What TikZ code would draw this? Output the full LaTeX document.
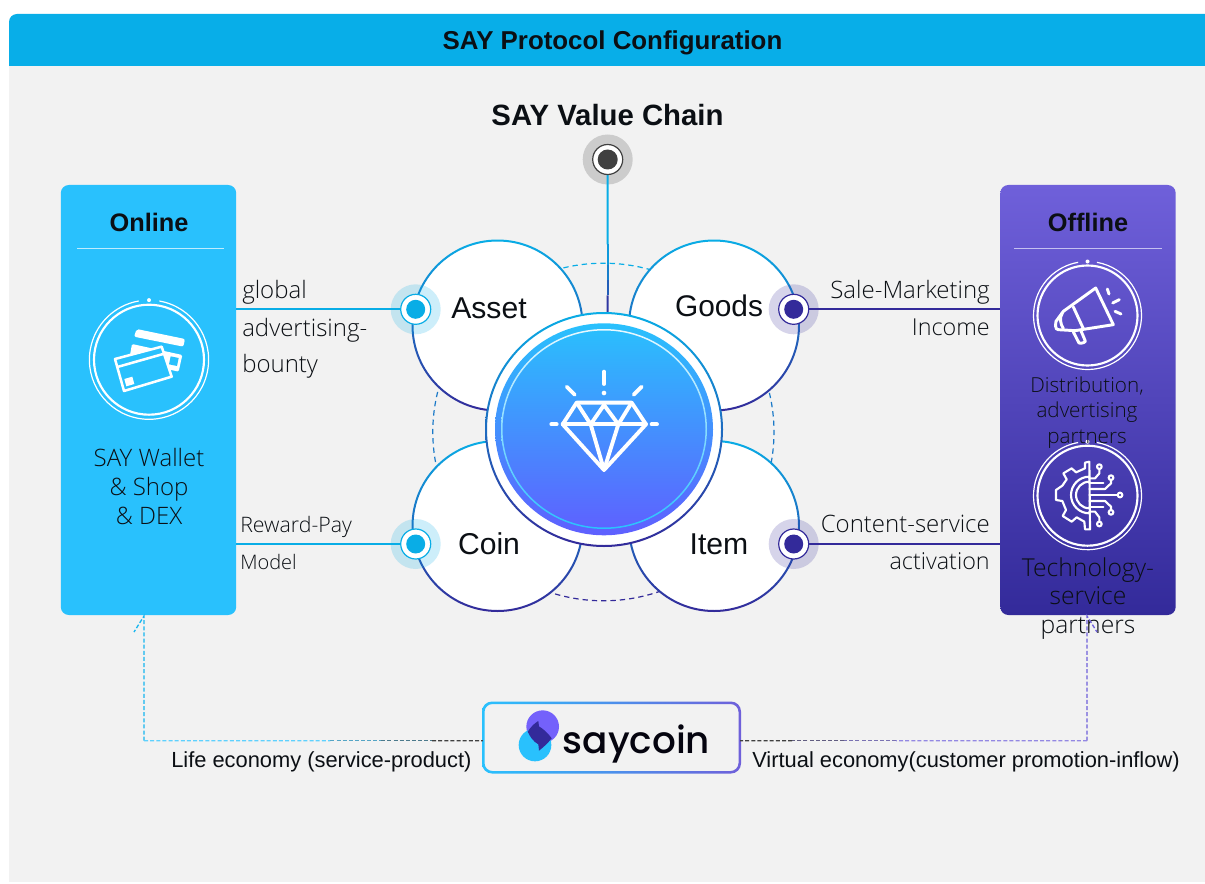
\documentclass[tikz,border=0pt]{standalone}
\usepackage{fontspec}
\setmainfont{Liberation Sans}
\newfontfamily\lightf{Open Sans Light}
\newfontfamily\logof{Poppins Medium}
\usetikzlibrary{calc,shapes.geometric}
\definecolor{hdr}{HTML}{08AEE8}
\definecolor{pagebg}{HTML}{F2F2F2}
\definecolor{cya}{HTML}{09ADE6}
\definecolor{ind}{HTML}{332A9A}
\definecolor{sky}{HTML}{29C1FD}
\definecolor{vio}{HTML}{6F60DA}
\definecolor{ink}{HTML}{0B0F14}
\definecolor{discb}{HTML}{5F5FFF}
\definecolor{logov}{HTML}{7461FB}
\newcommand{\fs}[1]{\fontsize{#1}{#1}\selectfont}
\newcommand{\gradring}[4]{\shade[top color=cya,middle color=cya!55!ind,bottom color=ind,even odd rule]
  (#1,#2) circle[radius=#3+#4/2] (#1,#2) circle[radius=#3-#4/2];}
\newcommand{\iconring}[4]{%
  \draw[white,line width=0.9pt] (#1,#2)++(-80:#3) arc[start angle=-80,end angle=260,radius=#3];
  \draw[white,line width=1.6pt] (#1,#2) circle[radius=#4];
  \fill[white] (#1,#2-#3) circle[radius=2];}
\tikzset{
  lab/.style={anchor=base,inner sep=0pt,text=ink},
  labl/.style={anchor=base west,inner sep=0pt,text=ink},
  labr/.style={anchor=base east,inner sep=0pt,text=ink},
  lite/.style={font=\lightf\fs{18}},
  bubble/.style={circle,fill=white,inner sep=0pt,minimum size=127.5pt},
  marker/.style={circle,fill=white,draw=#1,line width=0.9pt,inner sep=0pt,minimum size=22.5pt},
  icot/.style={white,line width=2.2pt,line join=round,line cap=round},
  gearl/.style={white,line width=1.6pt,line join=round,line cap=round},
  gemline/.style={white,line width=2.9pt,line join=round,line cap=round},
  dsh/.style={line width=1pt,dash pattern=on 3pt off 1.6pt},
  ringdash/.style={line width=0.9pt,dash pattern=on 4pt off 3pt},
}
\begin{document}
\begin{tikzpicture}[x=0.75pt,y=-0.75pt]
\useasboundingbox (0,0) rectangle (1205,884);
\fill[white] (0,0) rectangle (1205,884);
\fill[pagebg] (9,66) rectangle (1205,882);
\path[fill=hdr,rounded corners=6pt] (9,80) -- (9,14) -- (1220,14) -- (1220,80) -- cycle;
\fill[pagebg] (9,66) rectangle (1205,90);
\node[lab,font=\bfseries\fs{19.4}] (title) at (612.5,50) {SAY Protocol Configuration};
\node[lab,font=\bfseries\fs{22}] (vc) at (607.5,126) {SAY Value Chain};

% side panels
\node[fill=sky,rounded corners=6pt,minimum width=131.5pt,minimum height=322.5pt,inner sep=0pt] (online) at (148.5,400) {};
\node[top color=vio,bottom color=ind,rounded corners=6pt,minimum width=131.5pt,minimum height=322.5pt,inner sep=0pt] (offline) at (1088,400) {};

% dashed ring behind the bubbles
\draw[ringdash,cya] (603.4,432)++(225:170.6 and 168.8) arc[start angle=225,end angle=315,x radius=170.6,y radius=168.8];
\draw[ringdash,cya!60!ind] (603.4,432)++(315:170.6 and 168.8) arc[start angle=315,end angle=405,x radius=170.6,y radius=168.8];
\draw[ringdash,cya!60!ind] (603.4,432)++(135:170.6 and 168.8) arc[start angle=135,end angle=225,x radius=170.6,y radius=168.8];
\draw[ringdash,ind] (603.4,432)++(45:170.6 and 168.8) arc[start angle=45,end angle=135,x radius=170.6,y radius=168.8];

% bubbles
\node[bubble] (asset) at (497.5,325.5) {};
\node[bubble] (goods) at (714,325.5) {};
\node[bubble] (coin) at (497.5,526) {};
\node[bubble] (item) at (714,526) {};
\gradring{497.5}{325.5}{85}{2}
\gradring{714}{325.5}{85}{2}
\gradring{497.5}{526}{85}{2}
\gradring{714}{526}{85}{2}

% value chain connector
\node[circle,fill=black!20,inner sep=0pt,minimum size=37.5pt] (topn) at (607.7,159.5) {};
\coordinate (topend) at (607.7,314);
\foreach \a/\b/\p in {0/.55/100,.55/.68/85,.68/.78/65,.78/.88/40,.88/1/10}{
  \draw[line width=1.5pt,color=cya!\p!ind] ($(topn)!\a!(topend)$) -- ($(topn)!\b!(topend)$);
}
\node[circle,fill=white,draw=black!75,line width=0.9pt,inner sep=0pt,minimum size=22.5pt] (topo) at (topn) {};
\node[circle,fill=black!75,inner sep=0pt,minimum size=15pt] (topi) at (topn) {};

% centre medallion
\node[ellipse,fill=white,inner sep=0pt,minimum width=177pt,minimum height=174.75pt] (centre) at (604,429.5) {};
\shade[top color=cya,middle color=cya!55!ind,bottom color=ind,even odd rule]
  (604,429.5) ellipse[x radius=119,y radius=117.5] (604,429.5) ellipse[x radius=117,y radius=115.5];
\shade[top color=sky,bottom color=discb] (604,429.3) ellipse[x radius=109,y radius=106];
\shade[top color=white!90!sky,bottom color=sky,even odd rule]
  (604,429) ellipse[x radius=103,y radius=100] (604,429) ellipse[x radius=101.5,y radius=98.5];

% diamond (traced in 3x crop coordinates)
\begin{scope}[shift={(380,230)},scale=1/3]
  \draw[gemline] (590,518) -- (755,518) -- (798,583) -- (672,720) -- (548,583) -- cycle;
  \draw[gemline] (548,583) -- (798,583);
  \draw[gemline] (590,518) -- (632,583) -- (672,525) -- (715,583) -- (755,518);
  \draw[gemline] (632,583) -- (672,720) -- (715,583);
  \draw[gemline] (672,425) -- (672,462);
  \fill[white] (672,489) circle[radius=7];
  \draw[gemline] (560,470) -- (584,494);
  \draw[gemline] (785,470) -- (761,494);
  \draw[gemline] (514,583) -- (530,583);
  \draw[gemline] (815,583) -- (831,583);
\end{scope}

% markers and their connectors
\fill[cya,opacity=.2] (415.7,309.3) circle[radius=25];
\fill[cya,opacity=.2] (415.7,544) circle[radius=25];
\fill[ind,opacity=.2] (793.7,309.3) circle[radius=25];
\fill[ind,opacity=.2] (793.7,544) circle[radius=25];
\node[marker=cya] (m1) at (415.7,309.3) {};
\node[marker=cya] (m2) at (415.7,544) {};
\node[marker=ind] (m3) at (793.7,309.3) {};
\node[marker=ind] (m4) at (793.7,544) {};
\draw[cya,line width=1.5pt] (online.east |- m1) -- (m1);
\draw[cya,line width=1.5pt] (online.east |- m2) -- (m2);
\draw[ind,line width=1.5pt] (m3) -- (offline.west |- m3);
\draw[ind,line width=1.5pt] (m4) -- (offline.west |- m4);
\fill[cya] (m1) circle[radius=9.5];
\fill[cya] (m2) circle[radius=9.5];
\fill[ind] (m3) circle[radius=9.5];
\fill[ind] (m4) circle[radius=9.5];

% bubble labels
\node[lab,font=\fs{22.6}] (tasset) at (489,318) {Asset};
\node[lab,font=\fs{22.4}] (tgoods) at (719,316) {Goods};
\node[lab,font=\fs{22.6}] (tcoin) at (489,554) {Coin};
\node[lab,font=\fs{22.6}] (titem) at (719,554) {Item};

% connector labels
\node[labl,lite] (g1) at (242,298) {global};
\node[labl,lite] (g2) at (242,336) {advertising-};
\node[labl,lite] (g3) at (242,372) {bounty};
\node[labl,lite,font=\lightf\fs{16}] (r1) at (240,532) {Reward-Pay};
\node[labl,lite,font=\lightf\fs{15}] (r2) at (240,569) {Model};
\node[labr,lite] (s1) at (990,298) {Sale-Marketing};
\node[labr,lite,font=\lightf\fs{17.5}] (s2) at (990,335) {Income};
\node[labr,lite] (c1) at (990,532) {Content-service};
\node[labr,lite,font=\lightf\fs{17.5}] (c2) at (990,569) {activation};

% online panel
\node[lab,font=\bfseries\fs{19}] (ton) at (149,232) {Online};
\draw[white!70!sky,line width=1pt] (77,248.5) -- (224,248.5);
\iconring{149}{359.7}{59.6}{55}
\begin{scope}[shift={(60,185)},scale=1/3]
  \fill[white,rounded corners=1.5pt] (230,432) -- (375,462) -- (370,485) -- (222,455) -- cycle;
  \fill[white,rounded corners=1pt] (216,477) -- (367,510) -- (356,560) -- (320,552) -- (305,485) -- (210,510) -- cycle;
  \fill[sky] (332,514) -- (356,519) -- (351,543) -- (327,538) -- cycle;
  \draw[gearl,line width=1.9pt,fill=sky] (165,522) -- (305,485) -- (335,575) -- (192,618) -- cycle;
  \draw[gearl,line width=1.9pt] (172,546) -- (313,506);
  \fill[white] (193,582) -- (217,575) -- (223,597) -- (199,604) -- cycle;
\end{scope}
\node[lab,lite] (w1) at (149,466) {SAY Wallet};
\node[lab,lite] (w2) at (149,495) {\& Shop};
\node[lab,lite] (w3) at (149,524) {\& DEX};

% offline panel
\node[lab,font=\bfseries\fs{19}] (toff) at (1088,232) {Offline};
\draw[white!60!vio,line width=1pt] (1014,248.5) -- (1162,248.5);
\iconring{1087.5}{315.5}{54}{50}
\begin{scope}[shift={(1030,258)},scale=1/3]
  \draw[icot] (197,90) -- (250,200) -- (135,218) -- (85,215) to[out=180,in=260] (78,190) -- (100,160) -- cycle;
  \draw[icot] (130,147) -- (160,212);
  \draw[icot] (97,165) to[out=240,in=120] (100,212);
  \draw[icot] (130,222) -- (147,255) to[out=-20,in=-40] (165,247) -- (152,216);
  \draw[icot] (232,93) -- (237,108);
  \draw[icot] (248,135) -- (268,125);
  \draw[icot] (255,160) -- (273,168);
\end{scope}
\iconring{1087.5}{495.7}{54}{50}
\begin{scope}[shift={(1030,440)},scale=1/3]
  \draw[gearl] (178,65) -- (165,68) -- (165,85) -- (138,97) -- (125,85) -- (100,100) -- (110,118) -- (97,137) -- (78,150) -- (78,180) -- (97,183) -- (108,210) -- (98,228) -- (125,245) -- (140,232) -- (163,245) -- (165,268) -- (180,268) -- (178,65);
  \draw[gearl] (178,110) arc[start angle=-90,end angle=-270,radius=55];
  \draw[gearl] (178,125) arc[start angle=-90,end angle=-270,radius=40];
  \draw[gearl] (178,130) -- (220,130);
  \draw[gearl] (178,147) -- (225,147) -- (243,130) -- (243,121);
  \draw[gearl] (178,165) -- (262,165);
  \draw[gearl] (178,183) -- (225,183) -- (243,200) -- (243,209);
  \draw[gearl] (178,200) -- (220,200);
  \draw[gearl] (178,115) -- (195,115) -- (208,100) -- (208,88);
  \draw[gearl] (178,215) -- (195,215) -- (208,232) -- (208,244);
  \foreach \q in {(208,80),(243,113),(270,165),(243,217),(208,252)}{
    \draw[gearl] \q circle[radius=7];
  }
\end{scope}
\node[lab,lite,font=\lightf\fs{15.5}] (d1) at (1087,392) {Distribution,};
\node[lab,lite,font=\lightf\fs{15.5}] (d2) at (1087,417) {advertising};
\node[lab,lite,font=\lightf\fs{15.5}] (d3) at (1087,443) {partners};
\node[lab,lite,font=\lightf\fs{18.5}] (t1) at (1088,576) {Technology-};
\node[lab,lite,font=\lightf\fs{18.5}] (t2) at (1088,604) {service};
\node[lab,lite,font=\lightf\fs{18.5}] (t3) at (1088,633) {partners};

% logo box
\node[inner sep=0pt,minimum width=192.5pt,minimum height=52.5pt] (logo) at (611.5,737.5) {};
\shade[left color=sky,right color=vio,even odd rule,rounded corners=7.5pt]
  (482,701.5) rectangle (741,773.5)
  [rounded corners=6pt] (484.5,704) rectangle (738.5,771);
\begin{scope}[shift={(515,705)},scale=1/3]
  \fill[logov] (83,65) circle[radius=49];
  \fill[sky] (60,120) circle[radius=49];
  \fill[ind] (38,80) .. controls (48,65) and (58,55) .. (70,48) -- (72,64) .. controls (85,72) and (100,85) .. (110,100) .. controls (98,115) and (85,127) .. (72,137) -- (70,118) .. controls (55,110) and (45,95) .. (38,80) -- cycle;
\end{scope}
\node[anchor=base,inner sep=0pt,font=\logof\fs{28},text=black!90!ind] (saycoin) at (636.5,753) {saycoin};

% dashed flows
\coordinate (la) at (144,616);
\coordinate (lc) at (144,740.7);
\coordinate (ra) at (1087,616);
\coordinate (rc) at (1087,740.7);
\coordinate (lt) at (134,632);
\coordinate (rt) at (1097,632);
\draw[dsh,cya!60!sky] (lc) -- (la) -- (lt);
\draw[dsh,vio] (rc) -- (ra) -- (rt);
\foreach \a/\b/\p in {0/.55/100,.55/.7/70,.7/.85/40,.85/1/0}{
  \draw[dsh,color=sky!\p!black!75] ($(lc)!\a!(logo.west |- lc)$) -- ($(lc)!\b!(logo.west |- lc)$);
  \draw[dsh,color=vio!\p!black!75] ($(rc)!\a!(logo.east |- rc)$) -- ($(rc)!\b!(logo.east |- rc)$);
}
\node[labl,font=\fs{16.4}] (life) at (171,767) {Life economy (service-product)};
\node[labl,font=\fs{16.4}] (virt) at (752,767) {Virtual economy(customer promotion-inflow)};
\end{tikzpicture}
\end{document}
